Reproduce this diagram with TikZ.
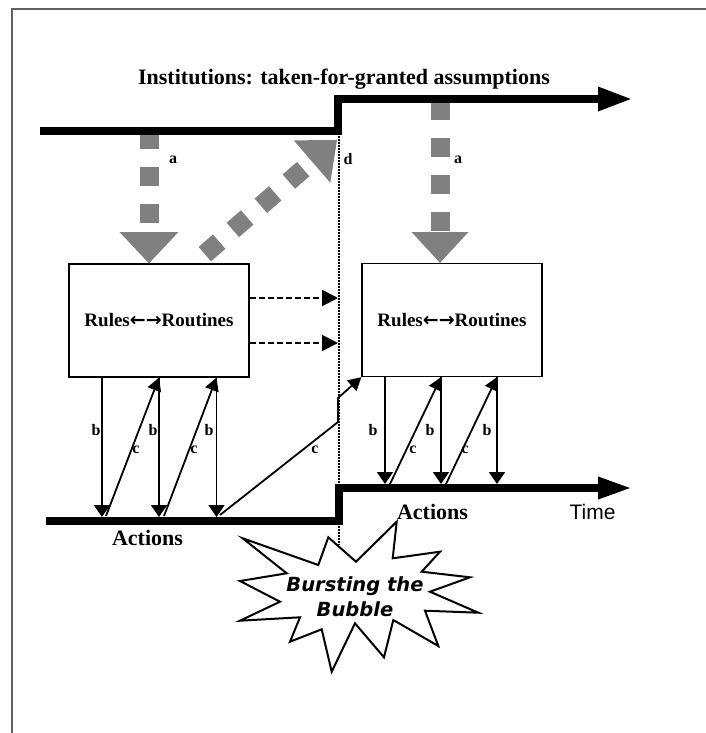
\documentclass[tikz,border=0pt]{standalone}
\usepackage{fontspec}
\setmainfont{Liberation Serif}
\newfontfamily\timefont{Liberation Sans}
\newfontfamily\burstfont{DejaVu Sans}
\newcommand{\twoway}{{\burstfont\bfseries ←→}}
\usetikzlibrary{arrows.meta,calc}
\begin{document}
\begin{tikzpicture}[x=1pt,y=-1pt,
  pageframe/.style={draw=black!62,line width=2pt},
  timeline/.style={line width=8.5pt,line join=miter},
  rbox/.style={draw,line width=1.3pt,minimum width=180pt,minimum height=113pt,inner sep=0pt,
    font=\fontsize{19}{22}\selectfont\bfseries},
  infl/.style={draw=gray,line width=19pt,dash pattern=on 19pt off 18pt},
  inflhead/.style={fill=gray},
  barrow/.style={line width=1.8pt,-{Triangle[length=12pt,width=16pt]}},
  carrow/.style={line width=1.8pt,-{Triangle[length=13pt,width=14pt]}},
  fwd/.style={line width=2pt,dash pattern=on 6pt off 3pt,-{Triangle[length=16pt,width=16pt]}},
  breakline/.style={line width=2.2pt,dash pattern=on 1.8pt off 1.2pt},
  lbl/.style={font=\fontsize{16}{18}\selectfont\bfseries,inner sep=0pt},
  bigtext/.style={font=\fontsize{22}{26}\selectfont\bfseries,inner sep=0pt,anchor=base},
  starline/.style={draw,line width=2pt,fill=white,line join=miter}
]
\useasboundingbox (0,0) rectangle (706,733);

% page frame
\coordinate (fr0) at (706,9);
\coordinate (fr1) at (12,9);
\coordinate (fr2) at (12,733);
\draw[pageframe] (fr0) -- (fr1) -- (fr2);

% rule boxes
\node[rbox] (L) at (159,320.5) {Rules\twoway Routines};
\node[rbox] (R) at (452,320) {Rules\twoway Routines};

% influence of institutions on rules (a) and of rules on institutions (d)
\coordinate (aL0) at (149,130);
\coordinate (aL1) at (149,232);
\draw[infl] (aL0) -- (aL1);
\fill[inflhead] ($(aL1)+(-29.5,0)$) -- ($(aL1)+(29.5,0)$) -- (L.north -| aL1) -- cycle;

\coordinate (aR0) at (440,101);
\coordinate (aR1) at (440,232);
\draw[infl] (aR0) -- (aR1);
\fill[inflhead] ($(aR1)+(-28.5,0)$) -- ($(aR1)+(28.5,0)$) -- (R.north -| aR1) -- cycle;

\coordinate (dS) at (204.8,254.1);
\coordinate (dT) at (337,140);
\coordinate (dH) at ($(dT)!33pt!(dS)$);
\draw[infl] (dS) -- (dH);
\fill[inflhead] ($(dH)!28pt!90:(dT)$) -- ($(dH)!28pt!-90:(dT)$) -- (dT) -- cycle;

% institutions time line
\coordinate (i0) at (40,131);
\coordinate (i1) at (338,131);
\coordinate (i2) at (338,99);
\coordinate (i3) at (633,99);
\draw[timeline,-{Triangle[length=35pt,width=22pt]}] (i0) -- (i1) -- (i2) -- (i3);

% actions time line
\coordinate (t0) at (46,521);
\coordinate (t1) at (339,521);
\coordinate (t2) at (339,488);
\coordinate (t3) at (633,488);
\draw[timeline,-{Triangle[length=35pt,width=20pt]}] (t0) -- (t1) -- (t2) -- (t3);

% the break
\coordinate (br0) at (339,136);
\coordinate (br1) at (339,545);
\draw[breakline] (br0) -- (br1);

% carrying rules across the break
\coordinate (f1) at (338,298);
\coordinate (f2) at (338,343);
\draw[fwd] (L.east |- f1) -- (f1);
\draw[fwd] (L.east |- f2) -- (f2);

% left period: rules shape actions (b), actions shape rules (c)
\coordinate (lb1) at (102,517);
\coordinate (lb2) at (159,517);
\coordinate (lb3) at (216.5,517);
\draw[barrow] (L.south -| lb1) -- (lb1);
\draw[barrow] (L.south -| lb2) -- (lb2);
\draw[barrow] (L.south -| lb3) -- (lb3);
\coordinate (lc1) at (106,516);
\coordinate (lc2) at (164,516);
\draw[carrow] (lc1) -- (L.south -| lb2);
\draw[carrow] (lc2) -- (L.south -| lb3);

% long feedback across the break
\coordinate (cl0) at (220,515);
\coordinate (cl1) at (338,422);
\coordinate (cl2) at (338,398);
\draw[carrow] (cl0) -- (cl1) -- (cl2) -- (R.south west);

% right period
\coordinate (rb1) at (385,484);
\coordinate (rb2) at (441,484);
\coordinate (rb3) at (497,484);
\draw[barrow] (R.south -| rb1) -- (rb1);
\draw[barrow] (R.south -| rb2) -- (rb2);
\draw[barrow] (R.south -| rb3) -- (rb3);
\coordinate (rc1) at (390,484);
\coordinate (rc2) at (446,484);
\draw[carrow] (rc1) -- (R.south -| rb2);
\draw[carrow] (rc2) -- (R.south -| rb3);

% letters on the links
\node[lbl] (la1) at (173,160) {a};
\node[lbl] (la2) at (458,160) {a};
\node[lbl] (ld) at (348,159) {d};
\node[lbl] (lbA) at (96,430) {b};
\node[lbl] (lbB) at (153,430) {b};
\node[lbl] (lbC) at (209,430) {b};
\node[lbl] (lcA) at (136,450) {c};
\node[lbl] (lcB) at (194,450) {c};
\node[lbl] (lcL) at (315,450) {c};
\node[lbl] (rbA) at (373,430) {b};
\node[lbl] (rbB) at (430,430) {b};
\node[lbl] (rbC) at (487,430) {b};
\node[lbl] (rcA) at (413,450) {c};
\node[lbl] (rcB) at (465,450) {c};

% headings
\node[bigtext] (title) at (344,85) {Institutions: taken-for-granted assumptions};
\node[bigtext] (actL) at (147.5,545) {Actions};
\node[bigtext] (actR) at (432.5,519) {Actions};
\node[inner sep=0pt,anchor=base,font=\timefont\fontsize{21}{24}\selectfont] (time) at (592.5,519) {Time};

% starburst
\draw[starline] (396.7,521.7) -- (392.7,558.3) -- (440,551.7) -- (421.7,571.7)
  -- (470,577.3) -- (430,591.7) -- (478.3,612.7) -- (425,610.7)
  -- (438.3,646) -- (393.3,620) -- (384,657.3) -- (355,623.3)
  -- (331.7,671.7) -- (321.7,629.3) -- (290,641.7) -- (300,617.3)
  -- (240,620.7) -- (280,601.7) -- (240,581) -- (286.7,573.3)
  -- (242.7,538.3) -- (318.3,565) -- (328.3,537.3) -- (356,561.7) -- cycle;
\node[inner sep=0pt,align=center,font=\burstfont\bfseries\itshape\fontsize{19.5}{25}\selectfont] (burst) at (355,597) {Bursting the\\Bubble};
\end{tikzpicture}
\end{document}
